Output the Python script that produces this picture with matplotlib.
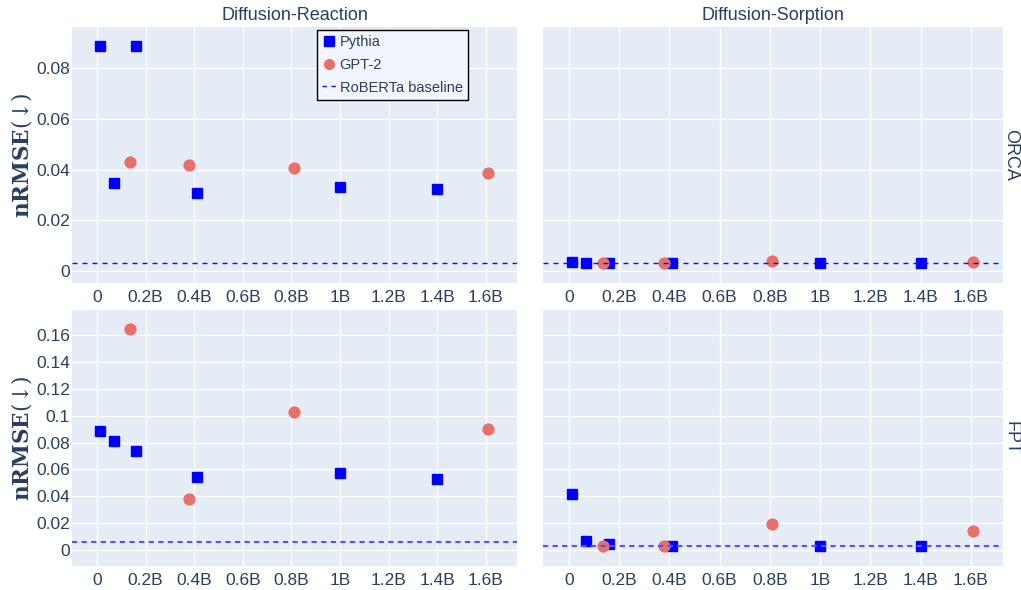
import matplotlib
matplotlib.use("Agg")
import matplotlib.pyplot as plt
from matplotlib.lines import Line2D
from matplotlib.ticker import FuncFormatter

plt.rcParams["font.family"] = ["Liberation Sans", "DejaVu Sans"]
plt.rcParams["mathtext.fontset"] = "dejavuserif"

# Model sizes (parameters)
pythia_sizes = [0.014e9, 0.070e9, 0.160e9, 0.410e9, 1.0e9, 1.4e9]
gpt2_sizes = [0.137e9, 0.380e9, 0.810e9, 1.610e9]

datasets = ["Diffusion-Reaction", "Diffusion-Sorption"]
methods = ["ORCA", "FPT"]

# nRMSE per (method, dataset)
pythia_orca_dr = [0.0887, 0.0346, 0.0887, 0.0307, 0.0330, 0.0322]
gpt2_orca_dr = [0.0431, 0.0417, 0.0408, 0.0387]
pythia_orca_ds = [0.0034, 0.0030, 0.0030, 0.0030, 0.0030, 0.0030]
gpt2_orca_ds = [0.0030, 0.0030, 0.0041, 0.0037]
pythia_fpt_dr = [0.0883, 0.0809, 0.0734, 0.0541, 0.0571, 0.0526]
gpt2_fpt_dr = [0.1645, 0.0380, 0.1029, 0.0900]
pythia_fpt_ds = [0.0414, 0.0067, 0.0042, 0.0027, 0.0027, 0.0027]
gpt2_fpt_ds = [0.0032, 0.0027, 0.0193, 0.0144]

roberta_orca = [0.0030, 0.0030]
roberta_fpt = [0.0060, 0.0030]

x_ticks = [0, 0.2e9, 0.4e9, 0.6e9, 0.8e9, 1.0e9, 1.2e9, 1.4e9, 1.6e9]
x_tick_labels = ["0", "0.2B", "0.4B", "0.6B", "0.8B", "1B", "1.2B", "1.4B", "1.6B"]
y_ticks_orca = [0, 0.02, 0.04, 0.06, 0.08]
y_ticks_fpt = [0, 0.02, 0.04, 0.06, 0.08, 0.10, 0.12, 0.14, 0.16]

PYTHIA_COLOR = "#0000ff"
GPT2_COLOR = "#e8706b"
TEXT_COLOR = "#2a3f5f"
BG = "#e5ecf6"

W, H = 1021, 590
fig = plt.figure(figsize=(W / 100, H / 100), dpi=100)


def px_axes(x0, y0, x1, y1):
    return fig.add_axes([x0 / W, 1 - y1 / H, (x1 - x0) / W, (y1 - y0) / H])


col_px = [(72, 517), (543, 1003)]
row_px = [(27, 283), (310, 566)]

values = {
    (0, 0): (pythia_orca_dr, gpt2_orca_dr, roberta_orca[0]),
    (0, 1): (pythia_orca_ds, gpt2_orca_ds, roberta_orca[1]),
    (1, 0): (pythia_fpt_dr, gpt2_fpt_dr, roberta_fpt[0]),
    (1, 1): (pythia_fpt_ds, gpt2_fpt_ds, roberta_fpt[1]),
}
y_limits = [(-0.0047, 0.0963), (-0.0119, 0.1786)]
y_ticks = [y_ticks_orca, y_ticks_fpt]
baseline_style = [dict(color="#1010e8", lw=1.0, dashes=(3.6, 3.6)),
                  dict(color="#5252ff", lw=1.5, dashes=(2.5, 2.1))]


def fmt_y(v, _):
    if abs(v) < 1e-12:
        return "0"
    return ("%.2f" % v).rstrip("0")


for r in range(2):
    for c in range(2):
        x0, x1 = col_px[c]
        y0, y1 = row_px[r]
        ax = px_axes(x0, y0, x1, y1)
        ax.set_facecolor(BG)
        for s in ax.spines.values():
            s.set_visible(False)
        ax.set_xlim(-0.103e9, 1.728e9)
        ax.set_ylim(*y_limits[r])
        ax.set_xticks(x_ticks)
        ax.set_xticklabels(x_tick_labels)
        ax.set_yticks(y_ticks[r])
        ax.yaxis.set_major_formatter(FuncFormatter(fmt_y))
        ax.tick_params(length=0, labelsize=12.5, colors=TEXT_COLOR)
        ax.tick_params(axis="x", pad=5)
        ax.tick_params(axis="y", pad=1.5)
        ax.grid(True, color="white", lw=1.0)
        ax.set_axisbelow(True)
        if c == 1:
            ax.tick_params(labelleft=False)

        py, gp, base = values[(r, c)]
        ax.plot(pythia_sizes, py, ls="none", marker="s", ms=7.8,
                color=PYTHIA_COLOR, zorder=3)
        ax.plot(gpt2_sizes, gp, ls="none", marker="o", ms=7.8,
                color=GPT2_COLOR, zorder=3)
        ax.axhline(base, zorder=4, **baseline_style[r])

# Column titles
for c, name in enumerate(datasets):
    x0, x1 = col_px[c]
    fig.text((x0 + x1) / 2 / W, 1 - 16 / H, name, ha="center", va="center",
             fontsize=13, color=TEXT_COLOR)

# Row labels
for r, name in enumerate(methods):
    y0, y1 = row_px[r]
    fig.text(1011 / W, 1 - (y0 + y1) / 2 / H, name, ha="center", va="center",
             rotation=-90, fontsize=13, color=TEXT_COLOR)

# Y-axis labels
for r in range(2):
    y0, y1 = row_px[r]
    fig.text(21 / W, 1 - (y0 + y1) / 2 / H, r"$\mathbf{nRMSE}(\!\downarrow\!)$",
             ha="center", va="center", rotation=90, fontsize=15.5,
             color=TEXT_COLOR)

handles = [
    Line2D([], [], ls="none", marker="s", ms=7, color=PYTHIA_COLOR),
    Line2D([], [], ls="none", marker="o", ms=7, color=GPT2_COLOR),
    Line2D([], [], color="#1010e8", lw=1.0, dashes=(3.2, 3.2)),
]
leg = fig.legend(handles, ["Pythia", "GPT-2", "RoBERTa baseline"],
                 loc="upper left", bbox_to_anchor=(317 / W, 1 - 30 / H),
                 frameon=True, fancybox=False, fontsize=10.5,
                 handlelength=0.95, handletextpad=0.25, borderpad=0.35,
                 labelspacing=0.6, borderaxespad=0)
leg.get_frame().set_edgecolor("black")
leg.get_frame().set_linewidth(1.0)
leg.get_frame().set_facecolor("#f2f5fb")
leg.get_frame().set_alpha(1.0)
for t in leg.get_texts():
    t.set_color(TEXT_COLOR)

fig.savefig("out.png", dpi=100)
